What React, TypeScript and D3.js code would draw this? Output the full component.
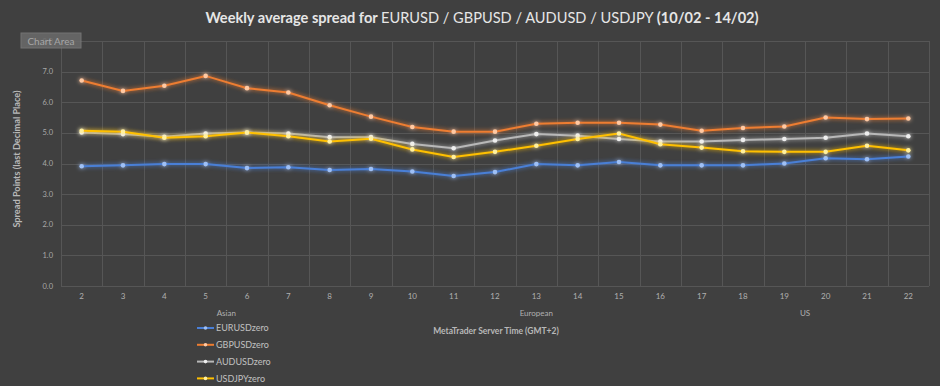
import React, { useEffect, useRef } from 'react';
import * as d3 from 'd3';

const hours = [2, 3, 4, 5, 6, 7, 8, 9, 10, 11, 12, 13, 14, 15, 16, 17, 18, 19, 20, 21, 22];
const sessions = [
    { name: 'Asian', from: 2, to: 9 },
    { name: 'European', from: 10, to: 16 },
    { name: 'US', from: 17, to: 22 },
];
const eurusd = [3.91, 3.94, 3.98, 3.98, 3.85, 3.88, 3.79, 3.82, 3.74, 3.59, 3.72, 3.98, 3.94, 4.05, 3.94, 3.94, 3.94, 4.0, 4.17, 4.14, 4.23];
const gbpusd = [6.71, 6.37, 6.54, 6.86, 6.46, 6.32, 5.9, 5.53, 5.19, 5.04, 5.04, 5.3, 5.33, 5.33, 5.27, 5.07, 5.16, 5.21, 5.5, 5.45, 5.47];
const audusd = [5.01, 4.96, 4.87, 4.98, 5.01, 4.98, 4.86, 4.86, 4.64, 4.5, 4.75, 4.96, 4.91, 4.8, 4.72, 4.72, 4.77, 4.8, 4.84, 4.98, 4.89];
const usdjpy = [5.07, 5.04, 4.84, 4.89, 5.01, 4.89, 4.72, 4.81, 4.46, 4.21, 4.38, 4.58, 4.8, 4.98, 4.63, 4.52, 4.4, 4.38, 4.38, 4.58, 4.43];
const yTicks = [0, 1, 2, 3, 4, 5, 6, 7, 8];

const series = [
    { name: 'EURUSDzero', values: eurusd, color: '#4a7fd6', marker: '#9fc0f5' },
    { name: 'GBPUSDzero', values: gbpusd, color: '#ed7d31', marker: '#ffc9a3' },
    { name: 'AUDUSDzero', values: audusd, color: '#b8b8b8', marker: '#efefef' },
    { name: 'USDJPYzero', values: usdjpy, color: '#ffc000', marker: '#fff0a0' },
];

const App: React.FC = () => {
    const svgRef = useRef<SVGSVGElement | null>(null);

    useEffect(() => {
        const svg = d3.select(svgRef.current);
        svg.selectAll('*').remove();

        const width = 940;
        const height = 386;
        const margin = { top: 41, right: 11, bottom: 100, left: 61 };
        const font = 'Lato, "Open Sans", sans-serif';

        svg.append('rect').attr('width', width).attr('height', height).attr('fill', '#404040');

        const defs = svg.append('defs');
        const glow = defs.append('filter').attr('id', 'glow')
            .attr('x', '-10%').attr('y', '-50%').attr('width', '120%').attr('height', '200%');
        glow.append('feGaussianBlur').attr('in', 'SourceGraphic').attr('stdDeviation', 2.2).attr('result', 'blur');
        const merge = glow.append('feMerge');
        merge.append('feMergeNode').attr('in', 'blur');
        merge.append('feMergeNode').attr('in', 'SourceGraphic');

        const x = d3.scaleBand<number>()
            .domain(hours)
            .range([margin.left, width - margin.right])
            .padding(0);

        const y = d3.scaleLinear()
            .domain([0, 8])
            .range([height - margin.bottom, margin.top]);

        // grid
        const grid = svg.append('g').attr('stroke', '#565656').attr('stroke-width', 1);
        yTicks.forEach(t => {
            grid.append('line')
                .attr('x1', margin.left).attr('x2', width - margin.right)
                .attr('y1', Math.round(y(t)) + 0.5).attr('y2', Math.round(y(t)) + 0.5);
        });
        [...hours, 23].forEach((h, i) => {
            const xp = i < hours.length ? x(h)! : x(hours[hours.length - 1])! + x.bandwidth();
            grid.append('line')
                .attr('x1', Math.round(xp) + 0.5).attr('x2', Math.round(xp) + 0.5)
                .attr('y1', margin.top).attr('y2', y(0));
        });

        // y tick labels
        svg.append('g').selectAll('text')
            .data(yTicks)
            .enter()
            .append('text')
            .attr('x', 53)
            .attr('y', d => y(d) + 2.5)
            .attr('text-anchor', 'end')
            .attr('font-family', font)
            .attr('font-size', 7.5)
            .attr('fill', '#a8a8a8')
            .text(d => d.toFixed(1));

        // x tick labels
        svg.append('g').selectAll('text')
            .data(hours)
            .enter()
            .append('text')
            .attr('x', d => x(d)! + x.bandwidth() / 2)
            .attr('y', 299)
            .attr('text-anchor', 'middle')
            .attr('font-family', font)
            .attr('font-size', 8)
            .attr('fill', '#b0b0b0')
            .text(d => d);

        // session labels
        svg.append('g').selectAll('text')
            .data(sessions)
            .enter()
            .append('text')
            .attr('x', d => (x(d.from)! + x(d.to)! + x.bandwidth()) / 2)
            .attr('y', 316)
            .attr('text-anchor', 'middle')
            .attr('font-family', font)
            .attr('font-size', 8)
            .attr('fill', '#b0b0b0')
            .text(d => d.name);

        // lines
        const line = d3.line<number>()
            .x((_, i) => x(hours[i])! + x.bandwidth() / 2)
            .y(d => y(d));

        series.forEach(s => {
            const g = svg.append('g').attr('filter', 'url(#glow)');
            g.append('path')
                .datum(s.values)
                .attr('d', line)
                .attr('fill', 'none')
                .attr('stroke', s.color)
                .attr('stroke-width', 2);
            g.selectAll('circle')
                .data(s.values)
                .enter()
                .append('circle')
                .attr('cx', (_, i) => x(hours[i])! + x.bandwidth() / 2)
                .attr('cy', d => y(d))
                .attr('r', 2.3)
                .attr('fill', s.marker);
        });

        // title
        const title = svg.append('text')
            .attr('x', 482)
            .attr('y', 23)
            .attr('text-anchor', 'middle')
            .attr('font-family', font)
            .attr('font-size', 14.6)
            .attr('fill', '#e6e6e6');
        title.append('tspan').attr('font-weight', 'bold').text('Weekly average spread for ');
        title.append('tspan').text('EURUSD / GBPUSD / AUDUSD / USDJPY ');
        title.append('tspan').attr('font-weight', 'bold').text('(10/02 - 14/02)');

        // axis titles
        svg.append('text')
            .attr('x', 496)
            .attr('y', 334)
            .attr('text-anchor', 'middle')
            .attr('font-family', font)
            .attr('font-size', 8.5)
            .attr('font-weight', 'bold')
            .attr('fill', '#b8b8b8')
            .text('MetaTrader Server Time (GMT+2)');

        svg.append('text')
            .attr('transform', 'translate(20,159) rotate(-90)')
            .attr('text-anchor', 'middle')
            .attr('font-family', font)
            .attr('font-size', 9.2)
            .attr('font-weight', 'bold')
            .attr('fill', '#b8b8b8')
            .text('Spread Points  (last Decimal Place)');

        // legend
        const legend = svg.append('g');
        series.forEach((s, i) => {
            const ly = 328 + i * 16.8;
            const row = legend.append('g').attr('transform', `translate(197,${ly})`);
            row.append('line').attr('x1', 0).attr('x2', 17).attr('y1', 0).attr('y2', 0)
                .attr('stroke', s.color).attr('stroke-width', 2);
            row.append('circle').attr('cx', 8.5).attr('cy', 0).attr('r', 1.8).attr('fill', s.marker);
            row.append('text').attr('x', 19).attr('y', 3.2)
                .attr('font-family', font).attr('font-size', 9)
                .attr('fill', '#c0c0c0')
                .text(s.name);
        });

        // "Chart Area" hover tooltip, drawn over the 8.0 label as in the screenshot
        const tip = svg.append('g');
        tip.append('rect').attr('x', 21).attr('y', 33).attr('width', 60).attr('height', 15)
            .attr('fill', '#6b6b6b').attr('stroke', '#7c7c7c').attr('opacity', 0.85);
        tip.append('text').attr('x', 51).attr('y', 44.5).attr('text-anchor', 'middle')
            .attr('font-family', font).attr('font-size', 10).attr('fill', '#a6a6a6')
            .text('Chart Area');
    }, []);

    return <svg ref={svgRef} width={940} height={386} style={{ position: 'absolute', left: 0, top: 0 }}></svg>;
};

export default App;
